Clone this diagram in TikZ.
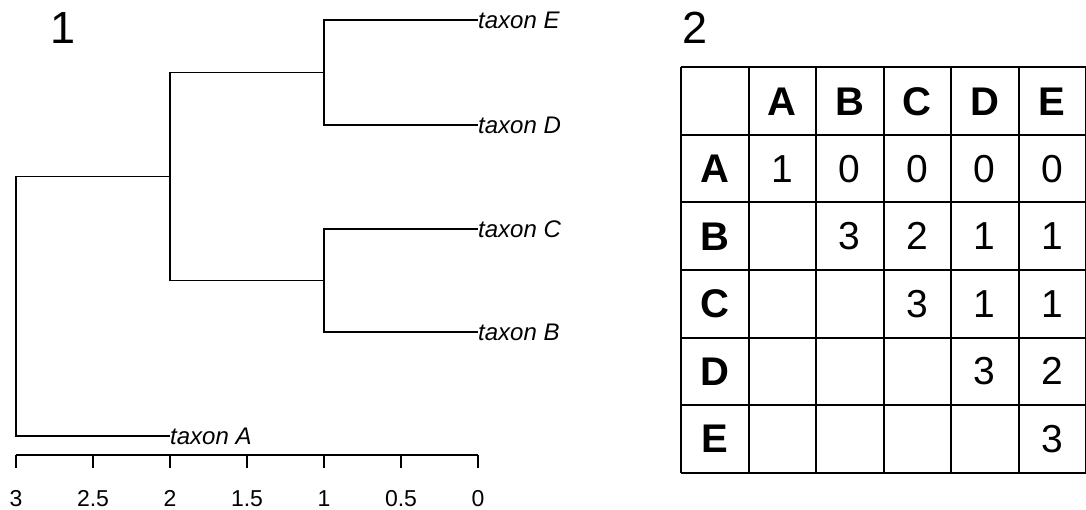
\documentclass[tikz,border=0pt]{standalone}
\usepackage{fontspec}
\setmainfont{Liberation Sans}
\begin{document}
\begin{tikzpicture}[x=1pt,y=-1pt,
  branch/.style={line width=1.3pt,black},
  taxlabel/.style={anchor=west,inner sep=0pt,font=\fontsize{24}{28}\selectfont\itshape},
  ticklabel/.style={inner sep=0pt,anchor=base,font=\fontsize{23}{27}\selectfont},
  panel/.style={inner sep=0pt,anchor=base,font=\fontsize{45}{50}\selectfont},
  head/.style={inner sep=0pt,font=\fontsize{40}{46}\selectfont\bfseries},
  val/.style={inner sep=0pt,font=\fontsize{39}{46}\selectfont},
  grid/.style={line width=2pt,black}]
\useasboundingbox (0,0) rectangle (1086,510);

% ---- panel 1: dendrogram ----
\node[panel] (p1) at (63,44) {1};

% leaf tips
\coordinate (tE) at (478,20);
\coordinate (tD) at (478,125);
\coordinate (tC) at (478,229);
\coordinate (tB) at (478,332);
\coordinate (tA) at (170,436);
% internal nodes
\coordinate (nED) at (324,72.5);
\coordinate (nCB) at (324,280.5);
\coordinate (nEDCB) at (170,176.5);
\coordinate (root) at (16,306);

\draw[branch] (tE) -| (nED) |- (tD);
\draw[branch] (tC) -| (nCB) |- (tB);
\draw[branch] (nED) -| (nEDCB) |- (nCB);
\draw[branch] (nEDCB) -| (root) |- (tA);

\node[taxlabel] (lE) at (tE) {taxon E};
\node[taxlabel] (lD) at (tD) {taxon D};
\node[taxlabel] (lC) at (tC) {taxon C};
\node[taxlabel] (lB) at (tB) {taxon B};
\node[taxlabel] (lA) at (tA) {taxon A};

% scale axis
\coordinate (ax0) at (16,455);
\coordinate (ax1) at (478,455);
\draw[branch] (ax0) -- (ax1);
\foreach \v [count=\i from 0] in {3,2.5,2,1.5,1,0.5,0} {
  \coordinate (tick\i) at ({16+77*\i},455);
  \draw[branch] (tick\i) -- ++(0,13);
  \node[ticklabel] (tl\i) at ({16+77*\i},506) {\v};
}

% ---- panel 2: matrix ----
\node[panel] (p2) at (695,44) {2};

\def\cw{67.5}
\def\xo{681}
\def\yo{67.5}
\foreach \i in {0,...,6} {
  \draw[grid] ({\xo+\cw*\i},\yo) -- ({\xo+\cw*\i},{\yo+6*\cw});
  \draw[grid] (\xo,{\yo+\cw*\i}) -- ({\xo+6*\cw},{\yo+\cw*\i});
}
% column and row headers
\foreach \h [count=\i] in {A,B,C,D,E} {
  \node[head] (col\h) at ({\xo+\cw*(\i+0.5)},{\yo+0.5*\cw}) {\h};
  \node[head] (row\h) at ({\xo+0.5*\cw},{\yo+\cw*(\i+0.5)}) {\h};
}
% shared character counts (upper triangle)
\foreach \r/\c/\n in {1/1/1,1/2/0,1/3/0,1/4/0,1/5/0,
                      2/2/3,2/3/2,2/4/1,2/5/1,
                      3/3/3,3/4/1,3/5/1,
                      4/4/3,4/5/2,
                      5/5/3} {
  \node[val] (v\r\c) at ({\xo+\cw*(\c+0.5)},{\yo+\cw*(\r+0.5)}) {\n};
}
\end{tikzpicture}
\end{document}
